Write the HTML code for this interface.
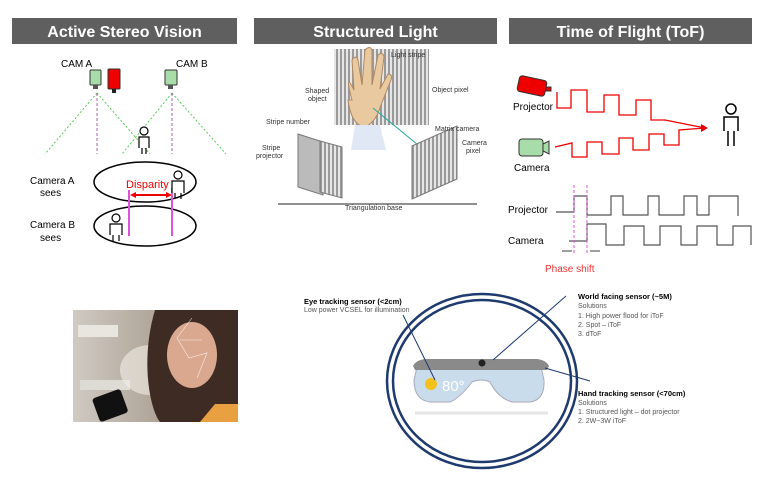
<!DOCTYPE html>
<html><head><meta charset="utf-8"><style>
body{margin:0;background:#fff;width:774px;height:475px;overflow:hidden;font-family:"Liberation Sans",sans-serif}
svg text{font-family:"Liberation Sans",sans-serif}
</style></head><body>
<svg width="774" height="475" viewBox="0 0 774 475" xmlns="http://www.w3.org/2000/svg">
<defs>
<linearGradient id="ph" x1="0" x2="1"><stop offset="0" stop-color="#cfcac3"/><stop offset="0.5" stop-color="#b0a598"/><stop offset="1" stop-color="#4a3a33"/></linearGradient>
<pattern id="str" width="4" height="4" patternUnits="userSpaceOnUse"><rect width="2" height="4" fill="#9a9a9a"/><rect x="2" width="2" height="4" fill="#e6e6e6"/></pattern>
</defs>
<!-- headers -->
<rect x="12" y="18" width="225" height="26" fill="#5f5f5f"/>
<text x="124.5" y="37" font-size="16" font-weight="bold" fill="#fff" text-anchor="middle">Active Stereo Vision</text>
<rect x="254" y="18" width="243" height="26" fill="#5f5f5f"/>
<text x="375.5" y="37" font-size="16" font-weight="bold" fill="#fff" text-anchor="middle">Structured Light</text>
<rect x="509" y="18" width="243" height="26" fill="#5f5f5f"/>
<text x="630.5" y="37" font-size="16" font-weight="bold" fill="#fff" text-anchor="middle">Time of Flight (ToF)</text>

<!-- stereo -->
<text x="61" y="67" font-size="10">CAM A</text>
<text x="176" y="67" font-size="10">CAM B</text>
<rect x="90" y="70" width="11" height="15" rx="1" fill="#a8dca8" stroke="#333"/>
<rect x="93" y="85" width="5" height="4" fill="#555"/>
<rect x="108" y="69" width="12" height="20" rx="1" fill="#e00" stroke="#333"/>
<rect x="112" y="89" width="4" height="4" fill="#222"/>
<rect x="165" y="70" width="12" height="15" rx="1" fill="#a8dca8" stroke="#333"/>
<rect x="168" y="85" width="5" height="4" fill="#555"/>
<g stroke="#5c5" stroke-dasharray="2,2" fill="none">
<path d="M97 93 L45 154 M97 93 L150 154 M172 93 L122 154 M172 93 L226 154"/>
</g>
<g stroke="#a6a" stroke-dasharray="3,2"><path d="M97 93 V154 M172 93 V154"/></g>
<g fill="#fff" stroke="#000" stroke-width="1.2">
<circle cx="144" cy="131" r="4"/><path d="M139 148 V137 h10 V148 M142 148 V154 M146 148 V154"/>
</g>
<ellipse cx="145" cy="182" rx="51" ry="20" fill="none" stroke="#000" stroke-width="1.5"/>
<ellipse cx="145" cy="226" rx="51" ry="20" fill="none" stroke="#000" stroke-width="1.5"/>
<text x="30" y="184" font-size="10">Camera A</text><text x="40" y="196" font-size="10">sees</text>
<text x="30" y="228" font-size="10">Camera B</text><text x="40" y="241" font-size="10">sees</text>
<text x="126" y="188" font-size="11" fill="#e00">Disparity</text>
<path d="M132 195 H170" stroke="#e00" stroke-width="2"/>
<path d="M130 195 l6 -3 v6z M172 195 l-6 -3 v6z" fill="#e00"/>
<path d="M129 190 V236 M172 188 V236" stroke="#d5d" stroke-width="2"/>
<g fill="#fff" stroke="#000" stroke-width="1.2">
<circle cx="178" cy="175" r="4"/><path d="M172 193 V181 h12 V193 M175 193 V199 M181 193 V199"/>
<circle cx="116" cy="218" r="4"/><path d="M110 235 V224 h12 V235 M113 235 V241 M119 235 V241"/>
</g>

<!-- structured light -->
<rect x="334" y="49" width="95" height="76" fill="url(#str)"/>
<path d="M352 100 q-8 -30 2 -10 l-2 -30 q4 -6 6 0 l4 25 l3 -35 q5 -5 7 0 l0 35 l6 -30 q5 -4 6 2 l-4 32 l8 -15 q5 0 3 6 l-10 25 q-6 20 -18 22 q-12 -4 -15 -27z" fill="#e8c9a0" stroke="#b08860"/>
<path d="M355 125 l25 0 l6 25 l-35 0z" fill="#dfe8f4"/>
<line x1="373" y1="108" x2="418" y2="145" stroke="#2a9" stroke-width="1"/>
<path d="M298 134 l25 8 v53 l-25 -8z" fill="#bbb" stroke="#777"/>
<path d="M320 141 l22 6 v51 l-22 -6z" fill="url(#str)" stroke="#777"/>
<path d="M412 146 l45 -20 v53 l-45 20z" fill="url(#str)" stroke="#777"/>
<path d="M278 204 H477" stroke="#222"/>
<g font-size="7" fill="#333">
<text x="391" y="57">Light stripe</text><text x="305" y="93">Shaped</text><text x="308" y="101">object</text>
<text x="432" y="92">Object pixel</text><text x="266" y="124">Stripe number</text>
<text x="262" y="150">Stripe</text><text x="256" y="158">projector</text>
<text x="435" y="131">Matrix camera</text><text x="462" y="145">Camera</text><text x="466" y="153">pixel</text>
<text x="345" y="210">Triangulation base</text></g>

<!-- ToF -->
<rect x="518" y="78" width="28" height="16" rx="3" fill="#e00" stroke="#333" transform="rotate(12 532 86)"/>
<rect x="546" y="87" width="5" height="4" fill="#e00" stroke="#333"/>
<text x="513" y="110" font-size="10">Projector</text>
<rect x="519" y="139" width="24" height="17" rx="3" fill="#a8dca8" stroke="#333"/>
<path d="M543 144 l6 -3 v13 l-6 -3z" fill="#a8dca8" stroke="#333"/>
<text x="514" y="171" font-size="10">Camera</text>
<path d="M557 92 V108 h14 V90 h16 V112 h17 V95 h15 V115 h17 V100 h15 V120 h14 L705 128" fill="none" stroke="#e00" stroke-width="1.3"/>
<path d="M555 147 l17 -4 v14 h15 V142 h15 V154 h17 V138 h14 V150 h16 V134 h15 V145 h15 V130 L705 128" fill="none" stroke="#e00" stroke-width="1.3"/>
<path d="M708 128 l-7 -4 v8z" fill="#e00"/>
<g fill="#fff" stroke="#000" stroke-width="1.5">
<circle cx="731" cy="109" r="5"/><path d="M724 131 V117 h14 V131 M728 131 V146 M734 131 V146"/></g>
<text x="508" y="213" font-size="10">Projector</text>
<text x="508" y="244" font-size="10">Camera</text>
<path d="M556 212 H574 V196 H587 V215 H611 V196 H623 V215 H648 V196 H659 V215 H684 V196 H697 V215 H709 V196 H738 V216" fill="none" stroke="#555" stroke-width="1.2"/>
<path d="M569 241 H587 V224 H606 V245 H624 V226 H644 V245 H660 V226 H681 V245 H697 V226 H717 V245 H733 V226 H751 V245" fill="none" stroke="#555" stroke-width="1.2"/>
<path d="M574 185 V255 M587 185 V255" stroke="#d5d" stroke-dasharray="3,2"/>
<path d="M562 251 h10 M600 251 h-10" stroke="#000" stroke-width="0.8"/>
<text x="545" y="272" font-size="10" fill="#e33">Phase shift</text>

<!-- photo -->
<rect x="73" y="310" width="165" height="112" fill="url(#ph)"/>
<rect x="78" y="325" width="40" height="12" fill="#e9e6e0"/><rect x="80" y="380" width="50" height="10" fill="#dedad4"/>
<ellipse cx="150" cy="370" rx="30" ry="25" fill="#f2eee8" opacity="0.6"/>
<path d="M155 310 C140 360 150 410 160 422 H238 V310z" fill="#3e2c24"/>
<ellipse cx="192" cy="355" rx="25" ry="33" fill="#d9a88e"/>
<path d="M192 318 l-15 20 l12 20 l18 -5 l-10 25 M180 340 h22" stroke="#fff" stroke-width="0.6" fill="none" opacity="0.8"/>
<rect x="95" y="393" width="30" height="25" rx="3" fill="#111" transform="rotate(-20 110 405)"/>
<path d="M200 422 l15 -18 h23 v18z" fill="#e8a040"/>

<!-- glasses -->
<ellipse cx="482" cy="381" rx="95" ry="87" fill="none" stroke="#1e3a6e" stroke-width="2.5"/>
<ellipse cx="482" cy="381" rx="89" ry="81" fill="none" stroke="#1e3a6e" stroke-width="2.5"/>
<path d="M417 367 L414 380 q0 20 16 22 h20 q10 -4 22 -20 q10 -4 18 0 q8 16 22 20 h18 q15 -2 14 -22 l-3 -13z" fill="#c8dcec" stroke="#aab"/>
<path d="M413 366 q3 -6 12 -7 h112 q9 1 12 7 l-2 4 H415z" fill="#8a8a8a"/>
<path d="M469 359 q4 9 12 9 h4 q8 0 12 -9z" fill="#8a8a8a"/>
<circle cx="482" cy="363" r="3.5" fill="#222"/>
<circle cx="431" cy="384" r="6" fill="#f2c21a"/>
<text x="442" y="391" font-size="15" fill="#fff">80°</text>
<path d="M415 413 H548" stroke="#e5e5e5" stroke-width="3"/>
<g stroke="#1e3a6e" stroke-width="1"><path d="M403 315 L435 380 M566 296 L493 360 M545 368 L590 381"/></g>
<g font-size="7.5">
<text x="304" y="304" font-weight="bold">Eye tracking sensor (&lt;2cm)</text>
<text x="304" y="312" fill="#555" font-size="7">Low power VCSEL for illumination</text>
<text x="578" y="299" font-weight="bold">World facing sensor (~5M)</text>
<text x="578" y="308" fill="#555" font-size="7">Solutions</text>
<text x="578" y="318" fill="#555" font-size="7">1.    High power flood for iToF</text>
<text x="578" y="327" fill="#555" font-size="7">2.    Spot – iToF</text>
<text x="578" y="336" fill="#555" font-size="7">3.    dToF</text>
<text x="578" y="396" font-weight="bold">Hand tracking sensor (&lt;70cm)</text>
<text x="578" y="405" fill="#555" font-size="7">Solutions</text>
<text x="578" y="414" fill="#555" font-size="7">1.  Structured light – dot projector</text>
<text x="578" y="423" fill="#555" font-size="7">2.  2W~3W iToF</text>
</g>
</svg>
</body></html>
